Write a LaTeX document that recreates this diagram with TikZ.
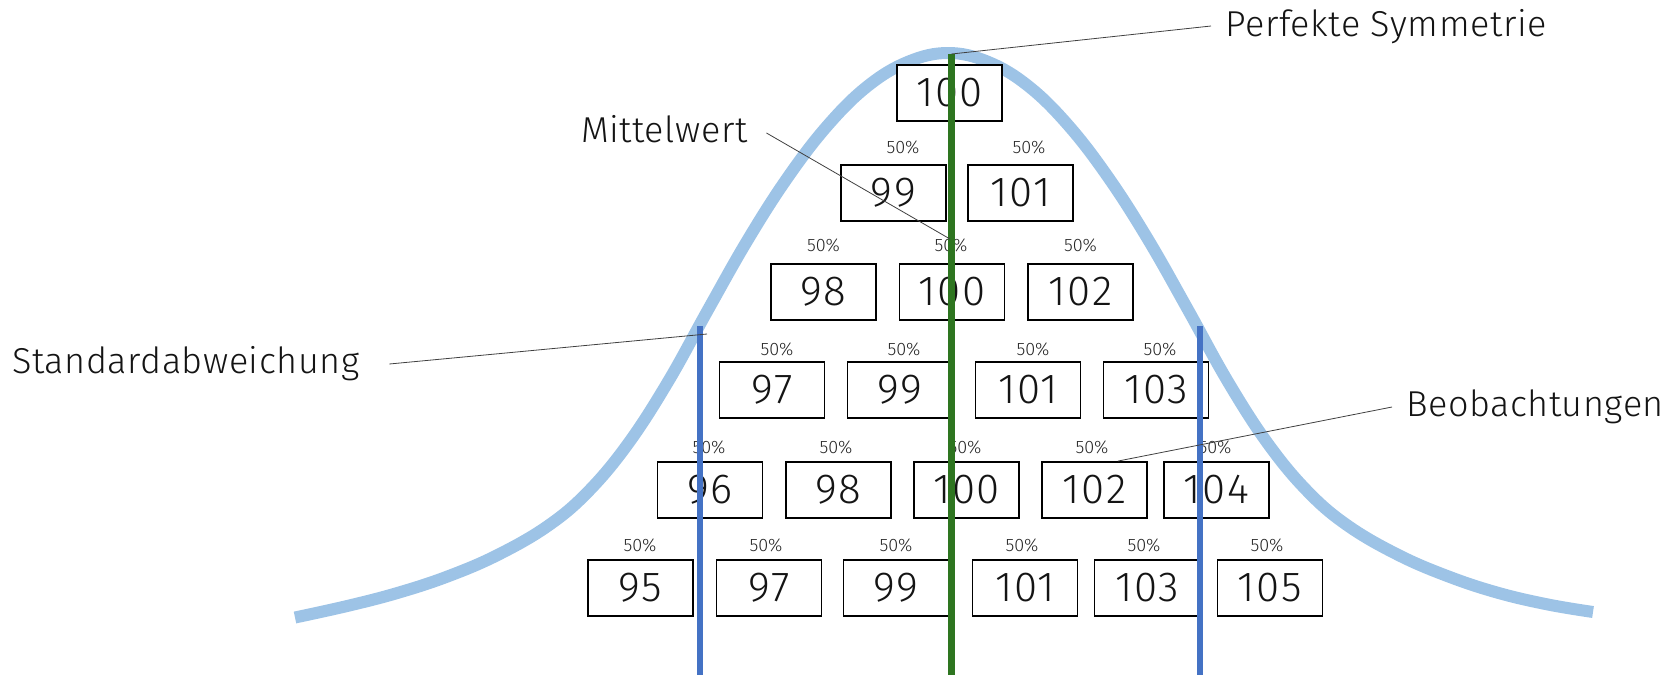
\documentclass[tikz,border=0pt]{standalone}
\usepackage{fontspec}
\setmainfont{Fira Sans}[UprightFont={* Light}]
\definecolor{bellblue}{RGB}{157,195,230}
\definecolor{sdblue}{RGB}{68,114,196}
\definecolor{meangreen}{RGB}{46,117,32}
\definecolor{txt}{RGB}{20,20,20}
\begin{document}
\begin{tikzpicture}[x=1pt,y=-1pt,
  box/.style={draw=black, line width=1.9pt, fill=white, minimum width=105pt, minimum height=56pt, inner sep=0pt, text=txt, font=\fontsize{42}{50}\selectfont\addfontfeatures{LetterSpace=4}},
  pct/.style={inner sep=0pt, text=black!85, font=\fontsize{18}{22}\selectfont},
  lbl/.style={inner sep=0pt, anchor=base west, text=txt, font=\fontsize{36}{44}\selectfont\addfontfeatures{LetterSpace=1.5}},
  annot/.style={line width=0.8pt, draw=black!75},
  bell/.style={line width=12pt, draw=bellblue},
  sdline/.style={line width=6pt, draw=sdblue},
  meanline/.style={line width=7pt, draw=meangreen}]
\useasboundingbox (0,0) rectangle (1669,675);
% bell curve
\draw[bell] plot[smooth, tension=0.65] coordinates {
  (295,617.5) (348,605.8) (398,592.8) (448,576.3) (498,554.8) (548,525.8)
  (588,491.8) (628,443.8) (668,381.8) (708,309.8) (748,239.4) (788,177)
  (828,125) (868,85.8) (908,61.8) (948,53)
  (988,61.8) (1028,85.8) (1068,125) (1108,177) (1148,239.4) (1188,309.8)
  (1228,381.8) (1268,443.8) (1308,491.8) (1348,525.8) (1398,554.8)
  (1448,576.3) (1498,592.8) (1548,604.5) (1593,612)};
% boxes
\foreach \n/\x/\y/\t in {
  r1a/949.5/93/100,
  r2a/893.5/193/99, r2b/1020.5/193/101,
  r3a/823.5/292/98, r3b/952/292/100, r3c/1080.5/292/102,
  r4a/772/390/97, r4b/900/390/99, r4c/1028/390/101, r4d/1156/390/103,
  r5a/710/490/96, r5b/838.5/490/98, r5c/966.5/490/100, r5d/1094.5/490/102, r5e/1216.5/490/104,
  r6a/640.5/588/95, r6b/769/588/97, r6c/896/588/99, r6d/1025/588/101, r6e/1147/588/103, r6f/1270/588/105}
  {\node[box] (\n) at (\x,\y) {\t};}
% percentage labels
\foreach \n/\x/\y in {
  p2a/903/147, p2b/1029/147,
  p3a/823.5/245, p3b/951/245, p3c/1080.5/245,
  p4a/777/349, p4b/904/349, p4c/1033/349, p4d/1160/349,
  p5a/709/447, p5b/836/447, p5c/965/447, p5d/1092/447, p5e/1215/447,
  p6a/640/545, p6b/766/545, p6c/896/545, p6d/1022/545, p6e/1144/545, p6f/1267/545}
  {\node[pct] (\n) at (\x,\y) {50\%};}
% standard deviation and mean lines
\coordinate (sdLt) at (699.5,326); \coordinate (sdLb) at (699.5,675);
\coordinate (sdRt) at (1200,326); \coordinate (sdRb) at (1200,675);
\coordinate (mT) at (951.5,54); \coordinate (mB) at (951.5,675);
\draw[sdline] (sdLt) -- (sdLb);
\draw[sdline] (sdRt) -- (sdRb);
\draw[meanline] (mT) -- (mB);
% labels
\node[lbl] (ps) at (1225,36) {Perfekte Symmetrie};
\node[lbl] (mw) at (581,142) {Mittelwert};
\node[lbl] (sd) at (12,373) {Standardabweichung};
\node[lbl] (bb) at (1406,416) {Beobachtungen};
% annotation connectors
\coordinate (sdpt) at (707,334);
\coordinate (mwpt) at (950,239);
\draw[annot] ([shift={(-14pt,10pt)}]ps.base west) -- (mT);
\draw[annot] ([shift={(19pt,9pt)}]mw.base east) -- (mwpt);
\draw[annot] ([shift={(30pt,9pt)}]sd.base east) -- (sdpt);
\draw[annot] ([shift={(-14pt,9pt)}]bb.base west) -- ([xshift=23.5pt]r5d.north);
\end{tikzpicture}
\end{document}
